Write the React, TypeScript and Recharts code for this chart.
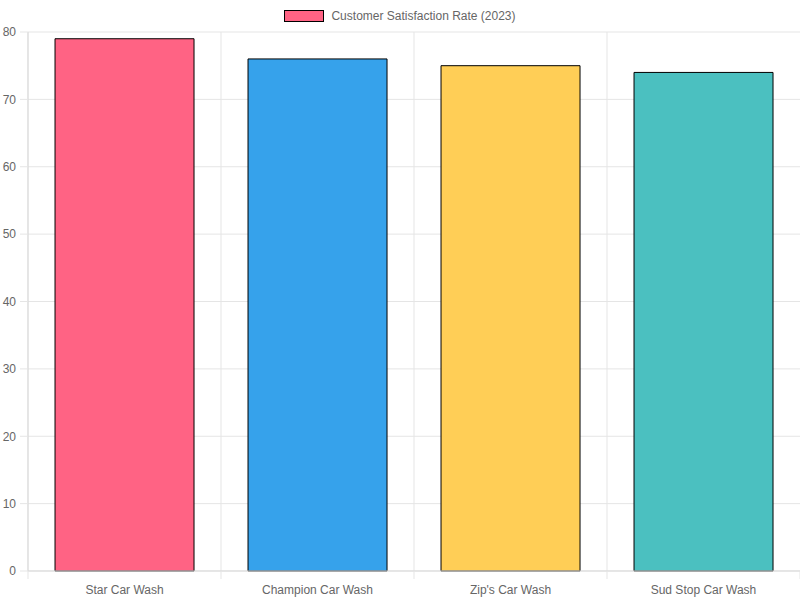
import { BarChart, Bar, Cell, XAxis, YAxis, CartesianGrid, Legend } from "recharts";

const categories = ["Star Car Wash", "Champion Car Wash", "Zip's Car Wash", "Sud Stop Car Wash"];
const satisfaction = [79, 76, 75, 74];
const yTicks = [0, 10, 20, 30, 40, 50, 60, 70, 80];
const seriesName = "Customer Satisfaction Rate (2023)";

const COLORS = ["#ff6384", "#36a2eb", "#ffce56", "#4bc0c0"];

const data = categories.map((name, i) => ({ name, value: satisfaction[i] }));

const W = 800;
const H = 600;
const Y_AXIS_W = 28;
const MARGIN = { top: 0, right: 0, bottom: 0, left: 0 };
const FONT = "'Liberation Sans', Arial, Helvetica, sans-serif";
const GRID = "#e5e5e5";
const AXIS = "#d9d9d9";

const plotWidth = W - MARGIN.left - MARGIN.right - Y_AXIS_W;
const band = plotWidth / categories.length;

function XTick(props: any) {
  const { x, y, payload, index } = props;
  const left = x - band / 2;
  return (
    <g>
      <line x1={left} y1={y} x2={left} y2={y + 8} stroke={GRID} />
      {index === categories.length - 1 && (
        <line x1={x + band / 2} y1={y} x2={x + band / 2} y2={y + 8} stroke={GRID} />
      )}
      <text x={x} y={y + 23} textAnchor="middle" fill="#666" fontSize={12} fontFamily={FONT}>
        {payload.value}
      </text>
    </g>
  );
}

function LegendContent() {
  return (
    <div
      style={{
        height: 32,
        display: "flex",
        justifyContent: "center",
        alignItems: "flex-start",
        fontFamily: FONT,
        fontSize: 12,
        color: "#666",
      }}
    >
      <div style={{ display: "flex", alignItems: "center", marginTop: 9 }}>
        <span
          style={{
            width: 40,
            height: 12,
            background: COLORS[0],
            border: "1px solid #000",
            boxSizing: "border-box",
            marginRight: 7,
          }}
        />
        <span>{seriesName}</span>
      </div>
    </div>
  );
}

export default function App() {
  return (
    <div style={{ position: "absolute", left: 0, top: 0, width: W, height: H, background: "#fff" }}>
      <BarChart width={W} height={H} data={data} margin={MARGIN} barCategoryGap="14%">
        <Legend verticalAlign="top" align="center" content={<LegendContent />} />
        <CartesianGrid
          stroke={GRID}
          verticalCoordinatesGenerator={({ offset }: any) =>
            categories.map((_, i) => offset.left + (i * offset.width) / categories.length)
          }
        />
        <XAxis
          dataKey="name"
          height={29}
          tickSize={0}
          tickMargin={0}
          tickLine={false}
          axisLine={{ stroke: AXIS }}
          tick={<XTick />}
          interval={0}
        />
        <YAxis
          width={Y_AXIS_W}
          domain={[0, 80]}
          ticks={yTicks}
          tickSize={8}
          tickMargin={4}
          tickLine={{ stroke: GRID }}
          axisLine={{ stroke: AXIS }}
          tick={{ fill: "#666", fontSize: 12, fontFamily: FONT }}
        />
        <Bar dataKey="value" name={seriesName} stroke="#000" strokeWidth={1} isAnimationActive={false}>
          {data.map((_d, i) => (
            <Cell key={i} fill={COLORS[i]} />
          ))}
        </Bar>
      </BarChart>
    </div>
  );
}
